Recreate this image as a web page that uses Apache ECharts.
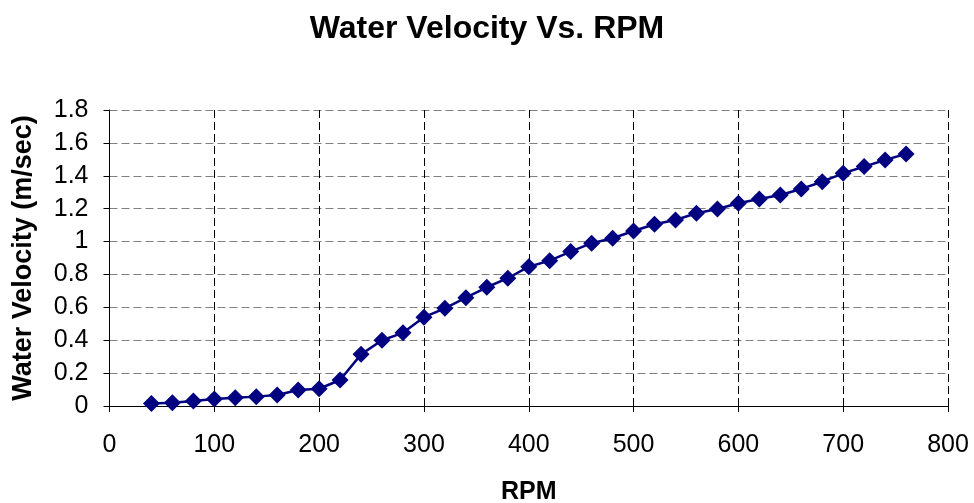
<!DOCTYPE html>
<html>
<head>
<meta charset="utf-8">
<script src="https://cdn.jsdelivr.net/npm/echarts@6/dist/echarts.min.js"></script>
<style>
html,body{margin:0;padding:0;background:#fff;}
#c{width:974px;height:503px;}
</style>
</head>
<body>
<div id="c"></div>
<script>
var rpm = [40,60,80,100,120,140,160,180,200,220,240,260,280,300,320,340,360,380,400,420,440,460,480,500,520,540,560,580,600,620,640,660,680,700,720,740,760];
var velocity = [0.015,0.02,0.03,0.043,0.05,0.057,0.067,0.097,0.105,0.158,0.314,0.40,0.445,0.54,0.594,0.659,0.722,0.777,0.847,0.884,0.939,0.99,1.02,1.064,1.105,1.131,1.172,1.198,1.233,1.259,1.283,1.32,1.364,1.415,1.456,1.496,1.533];
var chartTitle = 'Water Velocity Vs. RPM';
var xName = 'RPM';
var yName = 'Water Velocity (m/sec)';

var pts = rpm.map(function(r,i){return [r, velocity[i]];});
var chart = echarts.init(document.getElementById('c'), null, {renderer:'canvas'});
var font = 'Liberation Sans, Arial, sans-serif';
chart.setOption({
  animation:false,
  backgroundColor:'#fff',
  title:{text:chartTitle,left:'center',top:8,textStyle:{fontFamily:font,fontSize:32,fontWeight:'bold',color:'#000'}},
  grid:{left:109.5,right:26,top:110,bottom:97,containLabel:false,outerBoundsMode:'none'},
  xAxis:{type:'value',min:0,max:800,interval:100,
    name:xName,nameLocation:'middle',nameGap:74,
    nameTextStyle:{fontFamily:font,fontSize:25,fontWeight:'bold',color:'#000'},
    axisLine:{lineStyle:{color:'#000',width:1}},
    axisTick:{show:true,inside:false,length:6,lineStyle:{color:'#000'}},
    axisLabel:{fontFamily:font,fontSize:25,color:'#000',margin:27},
    splitLine:{show:true,lineStyle:{color:'#000',type:[8,4],width:1}}
  },
  yAxis:{type:'value',min:0,max:1.8,interval:0.2,
    name:yName,nameLocation:'middle',nameGap:72,nameRotate:90,
    nameTextStyle:{fontFamily:font,fontSize:27,fontWeight:'bold',color:'#000'},
    axisLine:{show:true,lineStyle:{color:'#000',width:1}},
    axisTick:{show:true,inside:false,length:6,lineStyle:{color:'#000'}},
    axisLabel:{fontFamily:font,fontSize:25,color:'#000',margin:21},
    splitLine:{show:true,lineStyle:{color:'#808080',type:[8,4],width:1}}
  },
  series:[{type:'line',data:pts,symbol:'diamond',symbolSize:17,
    lineStyle:{color:'#000080',width:2.5},
    itemStyle:{color:'#000080'}}]
});
</script>
</body>
</html>
